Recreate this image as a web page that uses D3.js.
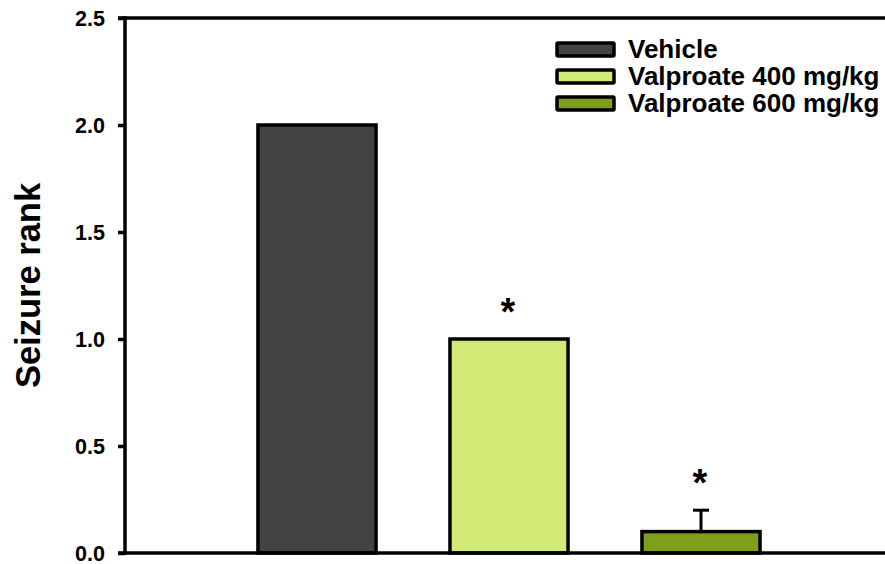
<!DOCTYPE html>
<html><head><meta charset="utf-8">
<script src="https://cdn.jsdelivr.net/npm/d3@7/dist/d3.min.js"></script>
<style>body{margin:0;background:#fff}svg{display:block}text{font-family:"Liberation Sans",Arial,sans-serif;font-weight:bold}</style>
</head><body><svg id="c" width="885" height="564"></svg>
<script>
const categories = ["Vehicle", "Valproate 400 mg/kg", "Valproate 600 mg/kg"];
const values = [2.0, 1.0, 0.1];
const errors = [0, 0, 0.1];
const significant = [false, true, true];
const colors = ["#434343", "#d1e975", "#7f9e1a"];
const yTicks = [0.0, 0.5, 1.0, 1.5, 2.0, 2.5];

(function () {
const svg = d3.select("#c");
const mLeft = 125, mTop = 18, mBottom = 553, mRight = 893;
const y = d3.scaleLinear().domain([0, 2.5]).range([mBottom, mTop]);
const x = d3.scaleBand().domain(categories).range([mLeft, mRight]).paddingInner(0.385).paddingOuter(0.6925);

// bars
svg.selectAll("rect.bar").data(categories).join("rect")
  .attr("class", "bar")
  .attr("x", d => x(d)).attr("width", x.bandwidth())
  .attr("y", (d, i) => y(values[i])).attr("height", (d, i) => y(0) - y(values[i]))
  .attr("fill", (d, i) => colors[i]).attr("stroke", "#000").attr("stroke-width", 3.5);

// error bars and significance marks
categories.forEach((c, i) => {
  const cx = x(c) + x.bandwidth() / 2;
  if (errors[i] > 0) {
    svg.append("line").attr("x1", cx).attr("x2", cx).attr("y1", y(values[i])).attr("y2", y(values[i] + errors[i]))
      .attr("stroke", "#000").attr("stroke-width", 3);
    svg.append("line").attr("x1", cx - 8).attr("x2", cx + 8).attr("y1", y(values[i] + errors[i])).attr("y2", y(values[i] + errors[i]))
      .attr("stroke", "#000").attr("stroke-width", 3);
  }
  if (significant[i]) {
    svg.append("text").attr("x", cx - 1).attr("y", y(values[i] + errors[i]) - 14)
      .attr("text-anchor", "middle").attr("font-size", 38).text("*");
  }
});

// y axis
const yAxis = d3.axisLeft(y).tickValues(yTicks).tickFormat(d3.format(".1f")).tickSize(7).tickPadding(13);
const g = svg.append("g").attr("transform", `translate(${mLeft},0)`).call(yAxis);
g.select(".domain").remove();
g.selectAll(".tick line").attr("stroke", "#000").attr("stroke-width", 3.5);
g.selectAll(".tick text").attr("font-size", 21.5).attr("fill", "#000").attr("dy", "0.35em")
  .style("font-family", '"Liberation Sans",Arial,sans-serif').style("font-weight", "bold");
svg.append("line").attr("x1", mLeft).attr("x2", mLeft).attr("y1", mTop - 1.75).attr("y2", mBottom + 1.75).attr("stroke", "#000").attr("stroke-width", 3.5);
svg.append("line").attr("x1", mLeft - 7).attr("x2", 885).attr("y1", mTop).attr("y2", mTop).attr("stroke", "#000").attr("stroke-width", 3.5);
svg.append("line").attr("x1", mLeft - 7).attr("x2", 885).attr("y1", mBottom).attr("y2", mBottom).attr("stroke", "#000").attr("stroke-width", 3.5);

// y title
svg.append("text").attr("transform", "translate(40,285.5) rotate(-90)").attr("text-anchor", "middle")
  .attr("font-size", 34.5).text("Seizure rank");

// legend
const lg = svg.append("g");
categories.forEach((c, i) => {
  const ly = 43 + i * 27;
  lg.append("rect").attr("x", 557).attr("y", ly).attr("width", 57).attr("height", 13)
    .attr("fill", colors[i]).attr("stroke", "#000").attr("stroke-width", 3.5).attr("rx", 1);
  lg.append("text").attr("x", 628).attr("y", ly + 14.5).attr("font-size", 26).text(c);
});
})();
</script></body></html>
